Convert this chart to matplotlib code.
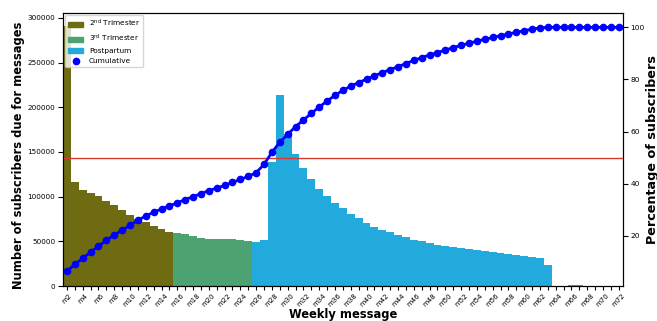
import matplotlib
matplotlib.use("Agg")
import matplotlib.pyplot as plt
import numpy as np
from matplotlib.patches import Patch
from matplotlib.lines import Line2D

# weekly message ids m2 .. m72
weeks = ["m%d" % i for i in range(2, 73)]

# subscribers due for each weekly message, split by stage
second_trimester = [291000, 116000, 107000, 104000, 100500, 95000, 90500,
                    85500, 79000, 75500, 71500, 67500, 63500, 60500]
third_trimester = [59500, 58000, 56000, 53500, 52500, 52500, 53000,
                   52500, 51500, 50000]
postpartum = [49000, 51500, 139000, 214000, 170000, 148000, 132000, 120000,
              109000, 101000, 93000, 87000, 81000, 76000, 70000, 66500,
              63000, 60000, 57000, 54500, 52000, 50000, 48000, 46000,
              44500, 43500, 42000, 41000, 40000, 39000, 38000, 37000,
              36000, 35000, 34000, 33000, 31000, 23000,
              0, 0, 600, 600, 0, 0, 500, 500, 400]

# cumulative percentage of subscribers
cumulative = [6.4, 9.0, 11.3, 13.7, 16.0, 18.2, 20.3, 22.1, 24.0, 25.9,
              27.6, 29.0, 30.3, 31.5, 32.6, 33.9, 35.0, 36.2, 37.3, 38.3,
              39.3, 40.5, 41.6, 42.8, 44.2, 47.4, 52.0, 55.9, 58.9, 61.9,
              64.4, 67.0, 69.4, 71.7, 73.9, 75.8, 77.4, 78.8, 80.1, 81.4,
              82.6, 83.8, 84.9, 86.1, 87.3, 88.4, 89.4, 90.3, 91.3, 92.2,
              93.1, 93.9, 94.7, 95.4, 96.1, 96.8, 97.4, 98.1, 98.7, 99.3,
              99.8, 100, 100, 100, 100, 100, 100, 100, 100, 100, 100]

half_line = 50

c_second = "#6e6b12"
c_third = "#4ca271"
c_post = "#22aadd"

fig = plt.figure(figsize=(6.57, 3.21), dpi=100)
fig.subplots_adjust(left=0.0959, right=0.9478, top=0.9595, bottom=0.109)
ax = fig.add_subplot(1, 1, 1)

n2 = len(second_trimester)
n3 = len(third_trimester)
x = np.arange(len(weeks))
ax.bar(x[:n2], second_trimester, width=1.0, color=c_second)
ax.bar(x[n2:n2 + n3], third_trimester, width=1.0, color=c_third)
ax.bar(x[n2 + n3:], postpartum, width=1.0, color=c_post)

ax.set_xlim(-0.5, len(weeks) - 0.5)
ax.ticklabel_format(axis="y", style="plain")
ax.set_xticks(x)
ax.set_xticklabels([w if i % 2 == 0 else "" for i, w in enumerate(weeks)],
                   rotation=45, ha="center")
ax.tick_params(axis="x", labelsize=5, length=3, pad=1.5)
ax.tick_params(axis="y", labelsize=5.2, length=3.5, pad=2)

ax.set_xlabel("Weekly message", fontsize=8.3, fontweight="bold")
ax.xaxis.set_label_coords(0.5, -0.08)
ax.set_ylabel("Number of subscribers due for messages", fontsize=8.3,
              fontweight="bold")
ax.yaxis.set_label_coords(-0.068, 0.48)

ax2 = ax.twinx()
ax2.axhline(half_line, color="#d93a2c", lw=1)
ax2.plot(x, cumulative, "o-", color="#0000ff", lw=2, ms=4.5)
ax2.set_ylim(0.7, 105.5)
ax2.set_yticks([20, 40, 60, 80, 100])
ax2.tick_params(axis="y", labelsize=5.4, length=3.5, pad=2)
ax2.set_ylabel("Percentage of subscribers", fontsize=9.2, fontweight="bold")
ax2.yaxis.set_label_coords(1.0408, 0.5)

handles = [Patch(color=c_second), Patch(color=c_third), Patch(color=c_post),
           Line2D([], [], marker="o", ls="none", color="#0000ff", ms=4.5)]
labels = [r"2$^{\mathrm{nd}}$ Trimester", r"3$^{\mathrm{rd}}$ Trimester",
          "Postpartum", "Cumulative"]
ax2.legend(handles, labels, loc="upper left", fontsize=5.3,
           borderaxespad=0.3)

fig.savefig("out.png", dpi=100)
